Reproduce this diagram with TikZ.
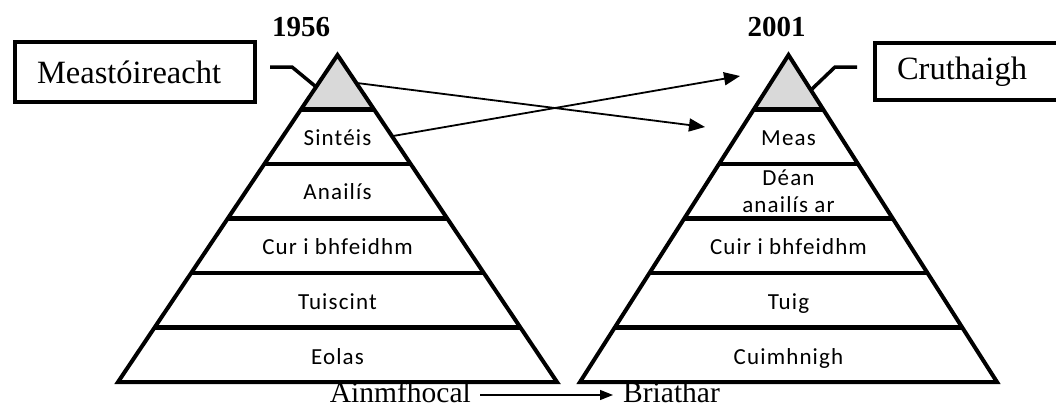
\documentclass[tikz,border=0pt]{standalone}
\usepackage{fontspec}
\setmainfont{Liberation Serif}
\newfontfamily\carlitofont[LetterSpace=5]{Carlito}
\usetikzlibrary{arrows.meta,calc}
\begin{document}
\begin{tikzpicture}[x=1pt,y=-1pt,
  edge/.style={line width=4pt, line join=miter},
  band/.style={line width=4.5pt},
  lbl/.style={font=\carlitofont\fontsize{23}{27}\selectfont, inner sep=0pt, anchor=base},
  boxlbl/.style={draw, line width=4pt, font=\fontsize{32.5}{36}\selectfont, inner xsep=22pt, inner ysep=0pt, align=left},
  year/.style={font=\bfseries\fontsize{29}{34}\selectfont, inner sep=0pt},
  bottomlbl/.style={font=\fontsize{29.5}{34}\selectfont, inner sep=0pt},
  conn/.style={line width=3.5pt, line join=miter},
  xarrow/.style={line width=1.8pt, -{Triangle[length=16pt,width=13pt]}},
  barrow/.style={line width=1.3pt, -{Triangle[length=13pt,width=10pt]}},
  ]
\useasboundingbox (0,0) rectangle (1056,408);
\fill[white] (0,0) rectangle (1056,408);

% ---------- left pyramid (1956)
\coordinate (LA) at (337.5,55);
\coordinate (LBL) at (118,382);
\coordinate (LBR) at (557,382);
\fill[black!15] (LA) -- ($(LA)!1/6!(LBL)$) -- ($(LA)!1/6!(LBR)$) -- cycle;
\foreach \t in {1,...,5}{
  \draw[band] ($(LA)!\t/6!(LBL)$) -- ($(LA)!\t/6!(LBR)$);
}
\draw[edge] (LA) -- (LBL) -- (LBR) -- cycle;

\node[lbl] (l1) at (337.5,145) {Sintéis};
\node[lbl] (l2) at (337.5,199.5) {Anailís};
\node[lbl] (l3) at (337.5,254.5) {Cur i bhfeidhm};
\node[lbl] (l4) at (337.5,309.5) {Tuiscint};
\node[lbl] (l5) at (337.5,364) {Eolas};

% ---------- right pyramid (2001)
\coordinate (RA) at (788.5,55);
\coordinate (RBL) at (580,382);
\coordinate (RBR) at (997,382);
\fill[black!15] (RA) -- ($(RA)!1/6!(RBL)$) -- ($(RA)!1/6!(RBR)$) -- cycle;
\foreach \t in {1,...,5}{
  \draw[band] ($(RA)!\t/6!(RBL)$) -- ($(RA)!\t/6!(RBR)$);
}
\draw[edge] (RA) -- (RBL) -- (RBR) -- cycle;

\node[lbl] (r1) at (788.5,145) {Meas};
\node[lbl] (r2a) at (788.5,185) {Déan};
\node[lbl] (r2b) at (788.5,212) {anailís ar};
\node[lbl] (r3) at (788.5,254.5) {Cuir i bhfeidhm};
\node[lbl] (r4) at (788.5,309.5) {Tuig};
\node[lbl] (r5) at (788.5,364) {Cuimhnigh};

% ---------- years
\node[year] (y1) at (301,27) {1956};
\node[year] (y2) at (776.5,27) {2001};

% ---------- label boxes
\node[boxlbl, anchor=west, minimum width=240pt, text width=196pt, minimum height=60pt] (mbox) at (13,72) {Meastóireacht};
\node[boxlbl, anchor=west, minimum width=200pt, text width=156pt, minimum height=57pt] (cbox) at (873,71.5) {Cruthaigh};

\coordinate (m1) at (270,67);
\coordinate (m2) at (292,67);
\coordinate (m3) at (315,86);
\draw[conn] (m1) -- (m2) -- (m3);

\coordinate (c1) at (857,67);
\coordinate (c2) at (835,67);
\coordinate (c3) at (812,89);
\draw[conn] (c1) -- (c2) -- (c3);

% ---------- crossing arrows
\coordinate (a1s) at (357,83);
\coordinate (a1e) at (705,127);
\coordinate (a2s) at (393,136);
\coordinate (a2e) at (740,76);
\draw[xarrow] (a1s) -- (a1e);
\draw[xarrow] (a2s) -- (a2e);

% ---------- bottom
\node[bottomlbl, anchor=base east] (noun) at (471,402) {Ainmfhocal};
\node[bottomlbl, anchor=base west] (verb) at (623,402) {Briathar};
\draw[barrow] ($(noun.base east)+(9,-7)$) -- ($(verb.base west)+(-10,-7)$);
\end{tikzpicture}
\end{document}
